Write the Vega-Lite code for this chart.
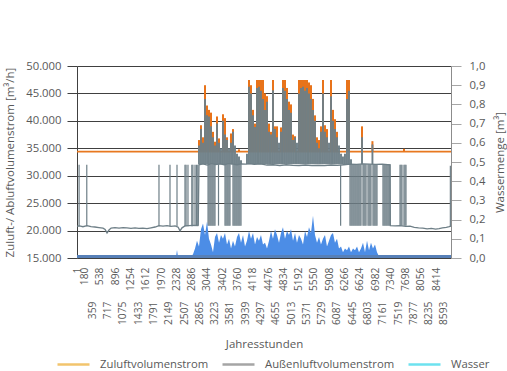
{
  "$schema": "https://vega.github.io/schema/vega-lite/v6.json",
  "width": 374,
  "height": 192,
  "autosize": {"type": "none"},
  "padding": {"left": 77, "top": 66, "right": 56, "bottom": 113},
  "background": "white",
  "config": {
    "view": {"stroke": null},
    "font": "Open Sans",
    "axis": {"labelFont": "Open Sans", "titleFont": "Open Sans", "labelColor": "#595959", "titleColor": "#595959", "titleFontWeight": "normal"}
  },
  "datasets": {
    "zconst": [{"h": 1, "a": 34400}, {"h": 8760, "a": 34400}],
    "gbase": [
      {"h":1,"a":20800},{"h":60,"a":20850},{"h":140,"a":20700},{"h":235,"a":20900},{"h":330,"a":20700},{"h":420,"a":20650},{"h":516,"a":20550},{"h":610,"a":20450},{"h":660,"a":20200},{"h":704,"a":19550},{"h":750,"a":20100},{"h":800,"a":20450},{"h":890,"a":20550},{"h":985,"a":20450},{"h":1080,"a":20550},{"h":1170,"a":20500},{"h":1265,"a":20400},{"h":1360,"a":20500},{"h":1450,"a":20400},{"h":1545,"a":20450},{"h":1640,"a":20350},{"h":1735,"a":20500},{"h":1830,"a":20650},{"h":1920,"a":20900},{"h":2015,"a":20800},{"h":2110,"a":20900},{"h":2200,"a":20750},{"h":2300,"a":20850},{"h":2370,"a":20600},{"h":2413,"a":19950},{"h":2460,"a":20500},{"h":2530,"a":20850},{"h":2620,"a":20900},{"h":2720,"a":20950},{"h":2840,"a":21000},{"h":2858,"a":32000},{"h":2950,"a":32150},{"h":3050,"a":31950},{"h":3150,"a":32200},{"h":3250,"a":32050},{"h":3350,"a":32150},{"h":3450,"a":32000},{"h":3550,"a":32200},{"h":3650,"a":32100},{"h":3750,"a":32000},{"h":3850,"a":32150},{"h":3950,"a":32100},{"h":4050,"a":32200},{"h":4150,"a":32050},{"h":4300,"a":32150},{"h":4450,"a":31950},{"h":4600,"a":32000},{"h":4750,"a":31850},{"h":4900,"a":32000},{"h":5050,"a":31900},{"h":5200,"a":31850},{"h":5350,"a":31950},{"h":5500,"a":31850},{"h":5650,"a":31900},{"h":5800,"a":31850},{"h":5950,"a":31950},{"h":6100,"a":31900},{"h":6250,"a":32000},{"h":6400,"a":32100},{"h":6550,"a":32050},{"h":6700,"a":32150},{"h":6850,"a":32100},{"h":7000,"a":32050},{"h":7150,"a":32100},{"h":7331,"a":32000},{"h":7340,"a":20900},{"h":7450,"a":20850},{"h":7566,"a":20900},{"h":7700,"a":20750},{"h":7800,"a":20800},{"h":7900,"a":20600},{"h":8000,"a":20500},{"h":8100,"a":20450},{"h":8200,"a":20300},{"h":8300,"a":20400},{"h":8400,"a":20250},{"h":8480,"a":20350},{"h":8560,"a":20500},{"h":8650,"a":20600},{"h":8720,"a":20700},{"h":8760,"a":20800}
    ],
    "dspk": [
      {"h":50,"a":20800,"b":32000},{"h":230,"a":20800,"b":32000},{"h":1921,"a":20800,"b":32000},{"h":2179,"a":20800,"b":32000},{"h":2343,"a":20800,"b":32000},{"h":2530,"a":20800,"b":32000},{"h":2555,"a":20800,"b":32000},{"h":2600,"a":20800,"b":32000},{"h":2690,"a":20800,"b":32000},{"h":2715,"a":20800,"b":32000},{"h":2765,"a":20800,"b":32000},{"h":2800,"a":20800,"b":32000},{"h":2830,"a":20800,"b":32000},
      {"h":3070,"a":20900,"b":32100},{"h":3092,"a":20900,"b":32100},{"h":3116,"a":20900,"b":32100},{"h":3139,"a":20900,"b":32100},{"h":3163,"a":20900,"b":32100},{"h":3186,"a":20900,"b":32100},{"h":3210,"a":20900,"b":32100},{"h":3233,"a":20900,"b":32100},{"h":3315,"a":20900,"b":32100},
      {"h":3467,"a":20900,"b":32100},{"h":3490,"a":20900,"b":32100},{"h":3514,"a":20900,"b":32100},{"h":3537,"a":20900,"b":32100},{"h":3561,"a":20900,"b":32100},{"h":3584,"a":20900,"b":32100},
      {"h":3654,"a":20900,"b":32100},{"h":3678,"a":20900,"b":32100},{"h":3701,"a":20900,"b":32100},{"h":3725,"a":20900,"b":32100},{"h":3748,"a":20900,"b":32100},{"h":3772,"a":20900,"b":32100},{"h":3795,"a":20900,"b":32100},{"h":3818,"a":20900,"b":32100},{"h":3842,"a":20900,"b":32100},
      {"h":6175,"a":20900,"b":32000},
      {"h":6394,"a":20900,"b":32100},{"h":6418,"a":20900,"b":32100},{"h":6441,"a":20900,"b":32100},{"h":6465,"a":20900,"b":32100},{"h":6488,"a":20900,"b":32100},{"h":6512,"a":20900,"b":32100},{"h":6535,"a":20900,"b":32100},{"h":6559,"a":20900,"b":32100},{"h":6582,"a":20900,"b":32100},{"h":6605,"a":20900,"b":32100},{"h":6629,"a":20900,"b":32100},{"h":6652,"a":20900,"b":32100},
      {"h":6699,"a":20900,"b":32100},{"h":6722,"a":20900,"b":32100},{"h":6746,"a":20900,"b":32100},{"h":6770,"a":20900,"b":32100},
      {"h":6816,"a":20900,"b":32100},{"h":6840,"a":20900,"b":32100},{"h":6863,"a":20900,"b":32100},{"h":6886,"a":20900,"b":32100},
      {"h":6933,"a":20900,"b":32100},{"h":6957,"a":20900,"b":32100},{"h":6980,"a":20900,"b":32100},{"h":7004,"a":20900,"b":32100},{"h":7027,"a":20900,"b":32100},
      {"h":7167,"a":20900,"b":32100},{"h":7191,"a":20900,"b":32100},{"h":7214,"a":20900,"b":32100},{"h":7238,"a":20900,"b":32100},{"h":7261,"a":20900,"b":32100},{"h":7285,"a":20900,"b":32100},{"h":7308,"a":20900,"b":32100},{"h":7331,"a":20900,"b":32100},
      {"h":7566,"a":20900,"b":32000},{"h":7589,"a":20900,"b":32000},{"h":7612,"a":20900,"b":32000},{"h":7659,"a":20900,"b":32000},{"h":7683,"a":20900,"b":32000},{"h":7706,"a":20900,"b":32000},
      {"h":8745,"a":20800,"b":31800}
    ],
    "gspk": [
      {"h":2858,"a":32100,"b":35500},{"h":2905,"a":32100,"b":38500},{"h":2952,"a":32100,"b":36000},{"h":2999,"a":32100,"b":44000},{"h":3046,"a":32100,"b":41000},{"h":3092,"a":32100,"b":40800},{"h":3139,"a":32100,"b":39000},{"h":3186,"a":32100,"b":37000},{"h":3233,"a":32100,"b":35500},{"h":3280,"a":32100,"b":39500},{"h":3327,"a":32100,"b":36000},{"h":3373,"a":32100,"b":35000},{"h":3420,"a":32100,"b":40000},{"h":3467,"a":32100,"b":37500},{"h":3514,"a":32100,"b":36500},{"h":3561,"a":32100,"b":35000},{"h":3608,"a":32100,"b":36000},{"h":3654,"a":32100,"b":38000},{"h":3701,"a":32100,"b":35500},{"h":3748,"a":32100,"b":34000},{"h":3795,"a":32100,"b":33500},{"h":3842,"a":32100,"b":32800},
      {"h":3982,"a":32100,"b":34000},{"h":4029,"a":32100,"b":46200},{"h":4076,"a":32100,"b":45000},{"h":4123,"a":32100,"b":41000},{"h":4170,"a":32100,"b":38900},{"h":4217,"a":32100,"b":46000},{"h":4263,"a":32100,"b":46200},{"h":4310,"a":32100,"b":45500},{"h":4357,"a":32100,"b":44000},{"h":4404,"a":32100,"b":42000},{"h":4451,"a":32100,"b":43500},{"h":4498,"a":32100,"b":38000},{"h":4544,"a":32100,"b":37500},{"h":4591,"a":32100,"b":45600},{"h":4638,"a":32100,"b":38500},{"h":4685,"a":32100,"b":37000},{"h":4732,"a":32100,"b":36000},{"h":4779,"a":32100,"b":38000},{"h":4825,"a":32100,"b":46000},{"h":4872,"a":32100,"b":45500},{"h":4919,"a":32100,"b":44000},{"h":4966,"a":32100,"b":42000},{"h":5013,"a":32100,"b":41500},{"h":5060,"a":32100,"b":36500},{"h":5107,"a":32100,"b":37000},{"h":5153,"a":32100,"b":36000},{"h":5200,"a":32100,"b":45000},{"h":5247,"a":32100,"b":46000},{"h":5294,"a":32100,"b":46200},{"h":5341,"a":32100,"b":45500},{"h":5388,"a":32100,"b":46000},{"h":5434,"a":32100,"b":45000},{"h":5481,"a":32100,"b":44000},{"h":5528,"a":32100,"b":42000},{"h":5575,"a":32100,"b":40000},{"h":5622,"a":32100,"b":36000},{"h":5669,"a":32100,"b":35000},{"h":5715,"a":32100,"b":38000},{"h":5762,"a":32100,"b":45000},{"h":5809,"a":32100,"b":38000},{"h":5856,"a":32100,"b":37000},{"h":5903,"a":32100,"b":36000},{"h":5950,"a":32100,"b":44500},{"h":5996,"a":32100,"b":40000},{"h":6043,"a":32100,"b":38500},{"h":6090,"a":32100,"b":37000},{"h":6137,"a":32100,"b":35500},{"h":6184,"a":32100,"b":34000},{"h":6230,"a":32100,"b":33500},{"h":6277,"a":32100,"b":34000},{"h":6324,"a":32100,"b":44000},{"h":6371,"a":32100,"b":45500},{"h":6418,"a":32100,"b":33000},{"h":6676,"a":32100,"b":37000},{"h":6920,"a":32100,"b":35700}
    ],
    "zspk": [
      {"h":2858,"a":34400,"b":36500},{"h":2905,"a":34400,"b":39200},{"h":2952,"a":34400,"b":37000},{"h":2999,"a":34400,"b":46500},{"h":3046,"a":34400,"b":42800},{"h":3092,"a":34400,"b":42000},{"h":3139,"a":34400,"b":41500},{"h":3186,"a":34400,"b":38000},{"h":3233,"a":34400,"b":36200},{"h":3280,"a":34400,"b":40800},{"h":3327,"a":34400,"b":36800},{"h":3420,"a":34400,"b":41200},{"h":3467,"a":34400,"b":40500},{"h":3514,"a":34400,"b":37000},{"h":3608,"a":34400,"b":37700},{"h":3654,"a":34400,"b":38500},{"h":3795,"a":34400,"b":34800},
      {"h":4029,"a":34400,"b":47450},{"h":4076,"a":34400,"b":46500},{"h":4123,"a":34400,"b":42000},{"h":4170,"a":34400,"b":39500},{"h":4217,"a":34400,"b":47450},{"h":4263,"a":34400,"b":47450},{"h":4310,"a":34400,"b":47450},{"h":4357,"a":34400,"b":47450},{"h":4404,"a":34400,"b":45000},{"h":4451,"a":34400,"b":44500},{"h":4498,"a":34400,"b":39500},{"h":4544,"a":34400,"b":38000},{"h":4591,"a":34400,"b":47450},{"h":4638,"a":34400,"b":39000},{"h":4685,"a":34400,"b":39000},{"h":4779,"a":34400,"b":38800},{"h":4825,"a":34400,"b":47450},{"h":4872,"a":34400,"b":47450},{"h":4919,"a":34400,"b":46000},{"h":4966,"a":34400,"b":43500},{"h":5013,"a":34400,"b":43000},{"h":5060,"a":34400,"b":37500},{"h":5107,"a":34400,"b":37200},{"h":5200,"a":34400,"b":47450},{"h":5247,"a":34400,"b":47450},{"h":5294,"a":34400,"b":47450},{"h":5341,"a":34400,"b":47450},{"h":5388,"a":34400,"b":47450},{"h":5434,"a":34400,"b":47000},{"h":5481,"a":34400,"b":46500},{"h":5528,"a":34400,"b":44000},{"h":5575,"a":34400,"b":41000},{"h":5622,"a":34400,"b":37000},{"h":5669,"a":34400,"b":36500},{"h":5715,"a":34400,"b":39000},{"h":5762,"a":34400,"b":47450},{"h":5809,"a":34400,"b":39200},{"h":5856,"a":34400,"b":38500},{"h":5950,"a":34400,"b":47450},{"h":5996,"a":34400,"b":42000},{"h":6043,"a":34400,"b":40300},{"h":6090,"a":34400,"b":38000},{"h":6324,"a":34400,"b":47450},{"h":6371,"a":34400,"b":47450},{"h":6676,"a":34400,"b":39000},{"h":6920,"a":34400,"b":36300},{"h":7659,"a":34400,"b":34900}
    ],
    "wat": [
      {"h":1,"w":0.008},{"h":2320,"w":0.008},{"h":2343,"w":0.042},{"h":2366,"w":0.008},{"h":2671,"w":0.008},{"h":2718,"w":0.02},{"h":2765,"w":0.05},{"h":2811,"w":0.09},{"h":2858,"w":0.06},{"h":2905,"w":0.15},{"h":2952,"w":0.18},{"h":2999,"w":0.12},{"h":3046,"w":0.19},{"h":3092,"w":0.10},{"h":3139,"w":0.07},{"h":3186,"w":0.03},{"h":3233,"w":0.11},{"h":3280,"w":0.13},{"h":3327,"w":0.08},{"h":3373,"w":0.12},{"h":3420,"w":0.10},{"h":3467,"w":0.13},{"h":3514,"w":0.07},{"h":3561,"w":0.10},{"h":3608,"w":0.05},{"h":3654,"w":0.09},{"h":3701,"w":0.06},{"h":3748,"w":0.11},{"h":3795,"w":0.13},{"h":3842,"w":0.08},{"h":3889,"w":0.12},{"h":3936,"w":0.06},{"h":3982,"w":0.09},{"h":4029,"w":0.14},{"h":4076,"w":0.10},{"h":4123,"w":0.13},{"h":4170,"w":0.07},{"h":4217,"w":0.11},{"h":4263,"w":0.09},{"h":4310,"w":0.12},{"h":4357,"w":0.07},{"h":4404,"w":0.08},{"h":4451,"w":0.05},{"h":4498,"w":0.09},{"h":4544,"w":0.14},{"h":4591,"w":0.10},{"h":4638,"w":0.15},{"h":4685,"w":0.12},{"h":4732,"w":0.08},{"h":4779,"w":0.13},{"h":4825,"w":0.16},{"h":4872,"w":0.10},{"h":4919,"w":0.14},{"h":4966,"w":0.12},{"h":5013,"w":0.15},{"h":5060,"w":0.09},{"h":5107,"w":0.13},{"h":5153,"w":0.08},{"h":5200,"w":0.12},{"h":5247,"w":0.10},{"h":5294,"w":0.07},{"h":5341,"w":0.14},{"h":5388,"w":0.11},{"h":5434,"w":0.16},{"h":5481,"w":0.13},{"h":5528,"w":0.22},{"h":5575,"w":0.12},{"h":5622,"w":0.08},{"h":5669,"w":0.11},{"h":5715,"w":0.07},{"h":5762,"w":0.10},{"h":5809,"w":0.12},{"h":5856,"w":0.06},{"h":5903,"w":0.09},{"h":5950,"w":0.12},{"h":5996,"w":0.13},{"h":6043,"w":0.08},{"h":6090,"w":0.10},{"h":6137,"w":0.05},{"h":6184,"w":0.06},{"h":6230,"w":0.03},{"h":6277,"w":0.05},{"h":6324,"w":0.04},{"h":6371,"w":0.06},{"h":6418,"w":0.03},{"h":6465,"w":0.05},{"h":6512,"w":0.04},{"h":6559,"w":0.06},{"h":6605,"w":0.03},{"h":6652,"w":0.05},{"h":6699,"w":0.08},{"h":6746,"w":0.03},{"h":6793,"w":0.09},{"h":6840,"w":0.04},{"h":6886,"w":0.08},{"h":6933,"w":0.05},{"h":6980,"w":0.07},{"h":7027,"w":0.03},{"h":7074,"w":0.008},{"h":8760,"w":0.008}
    ],
    "wbase": [{"h": 1, "w": 0.008}, {"h": 8760, "w": 0.008}],
    "leg": [
      {"s": "Zuluftvolumenstrom", "h": 1, "w": -5}, {"s": "Zuluftvolumenstrom", "h": 100, "w": -5},
      {"s": "Außenluftvolumenstrom", "h": 1, "w": -5}, {"s": "Außenluftvolumenstrom", "h": 100, "w": -5},
      {"s": "Wasser", "h": 1, "w": -5}, {"s": "Wasser", "h": 100, "w": -5}
    ]
  },
  "encoding": {
    "x": {
      "field": "h", "type": "quantitative",
      "scale": {"domain": [1, 8760], "nice": false, "zero": false},
      "axis": {
        "values": [1,180,359,538,717,896,1075,1254,1433,1612,1791,1970,2149,2328,2507,2686,2865,3044,3223,3402,3581,3760,3939,4118,4297,4476,4655,4834,5013,5192,5371,5550,5729,5908,6087,6266,6445,6624,6803,6982,7161,7340,7519,7698,7877,8056,8235,8414,8593],
        "format": "d",
        "labelAngle": -90,
        "labelFontSize": 10.3,
        "labelOverlap": false,
        "labelFlush": false,
        "labelBound": false,
        "labelPadding": {"condition": {"test": "datum.value > 1 && (datum.value - 1) % 358 === 0", "value": 43}, "value": 9},
        "ticks": false,
        "domain": false,
        "grid": false,
        "title": "Jahresstunden",
        "titleFontSize": 11.5,
        "titleY": 86,
        "titleBaseline": "middle"
      }
    }
  },
  "layer": [
    {
      "encoding": {
        "y": {
          "field": "a", "type": "quantitative",
          "scale": {"domain": [15000, 50000], "nice": false, "zero": false},
          "axis": {
            "values": [15000, 20000, 25000, 30000, 35000, 40000, 45000, 50000],
            "labelExpr": "replace(format(datum.value, ',.0f'), ',', '.')",
            "labelFontSize": 11.3,
            "labelPadding": 6,
            "tickSize": 10,
            "tickColor": "#404040",
            "domainColor": "#404040",
            "grid": true,
            "gridColor": "#404040",
            "gridWidth": 1,
            "gridOpacity": 1,
            "title": "Zuluft-/ Abluftvolumenstrom [m³/h]",
            "titleFontSize": 11.5,
            "titleX": -67,
            "titleY": 96,
            "titleAngle": 270,
            "titleBaseline": "middle",
            "titleAlign": "center"
          }
        }
      },
      "layer": [
        {"data": {"name": "zconst"}, "mark": {"type": "line", "color": "#E8781F", "strokeWidth": 1.6}},
        {"data": {"name": "zspk"}, "mark": {"type": "rule", "color": "#E8731A", "strokeWidth": 2}, "encoding": {"y2": {"field": "b"}}},
        {"data": {"name": "gspk"}, "mark": {"type": "rule", "color": "#6E7F87", "strokeWidth": 1.9}, "encoding": {"y2": {"field": "b"}}},
        {"data": {"name": "dspk"}, "mark": {"type": "rule", "color": "#6E7F87", "strokeWidth": 1.2}, "encoding": {"y2": {"field": "b"}}},
        {"data": {"name": "gbase"}, "mark": {"type": "line", "color": "#6E7F87", "strokeWidth": 1.3}}
      ]
    },
    {
      "encoding": {
        "y": {
          "field": "w", "type": "quantitative",
          "scale": {"domain": [0, 1], "nice": false, "zero": true},
          "axis": {
            "orient": "right",
            "values": [0, 0.1, 0.2, 0.3, 0.4, 0.5, 0.6, 0.7, 0.8, 0.9, 1.0],
            "labelExpr": "replace(format(datum.value, '.1f'), '.', ',')",
            "labelFontSize": 11.3,
            "labelPadding": 8,
            "tickSize": 10,
            "tickColor": "#A6A6A6",
            "domainColor": "#8C8C8C",
            "grid": false,
            "title": "Wassermenge [m³]",
            "titleFontSize": 11.5,
            "titleX": 49,
            "titleY": 96,
            "titleAngle": 270,
            "titleBaseline": "middle",
            "titleAlign": "center"
          }
        }
      },
      "layer": [
        {"data": {"name": "wat"}, "mark": {"type": "area", "color": "#4C8DE6", "opacity": 1}},
        {"data": {"name": "wbase"}, "mark": {"type": "line", "color": "#5780B8", "strokeWidth": 3}},
        {
          "data": {"name": "leg"},
          "mark": {"type": "line", "clip": true, "strokeWidth": 2.5},
          "encoding": {
            "color": {
              "field": "s", "type": "nominal",
              "scale": {"domain": ["Zuluftvolumenstrom", "Außenluftvolumenstrom", "Wasser"], "range": ["#F2C46D", "#A5A5A5", "#6DE2EF"]},
              "legend": {
                "orient": "none", "legendX": -21, "legendY": 281, "direction": "horizontal", "columns": 3,
                "title": null, "symbolType": "stroke", "symbolSize": 1024, "symbolStrokeWidth": 2.5,
                "labelFontSize": 11.3, "labelColor": "#595959", "labelFont": "Open Sans",
                "columnPadding": 8, "labelOffset": 9
              }
            }
          }
        }
      ]
    }
  ],
  "resolve": {"scale": {"y": "independent"}}
}
